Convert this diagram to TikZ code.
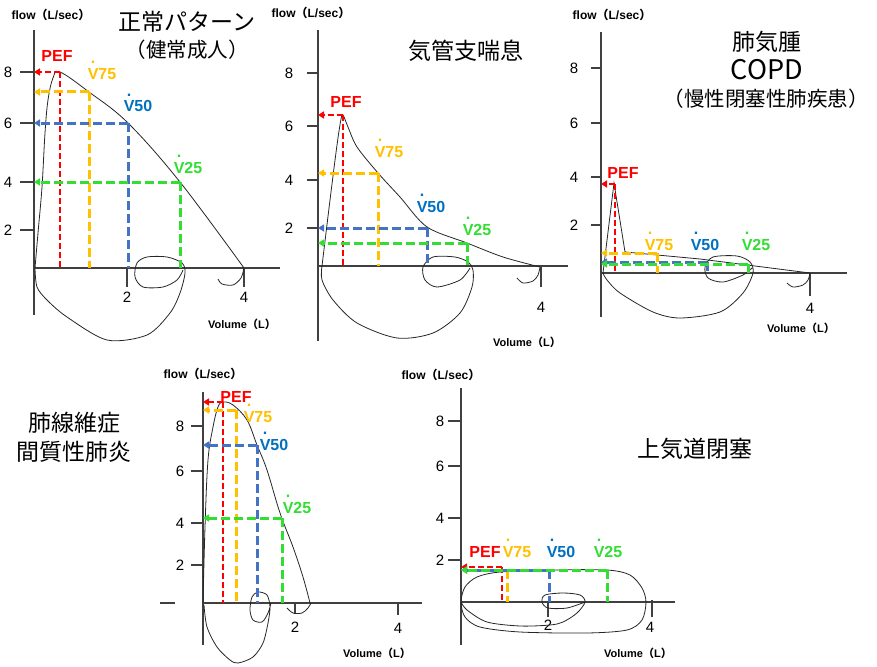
\documentclass[tikz,border=0pt]{standalone}
\usepackage{fontspec}
\setmainfont{Liberation Sans}
\newfontfamily\jp{Noto Sans CJK JP}
\usetikzlibrary{arrows.meta}

\definecolor{pefred}{RGB}{255,0,0}
\definecolor{vorange}{RGB}{255,192,0}
\definecolor{vblue}{RGB}{68,114,196}
\definecolor{vbluetext}{RGB}{0,112,192}
\definecolor{vgreen}{RGB}{51,221,51}

\newcommand{\Vdot}{\ooalign{V\cr\hidewidth\raisebox{1em}{.}\hidewidth\cr}}
\newcommand{\jpl}{{\jp （}}
\newcommand{\jpr}{{\jp ）}}

\begin{document}
\begin{tikzpicture}
      [x=1pt,y=-1pt,>={Triangle[length=6pt,width=7pt]}]

      \tikzstyle{axisline} = [line width=1.1pt,black!75]
      \tikzstyle{fv} = [line width=0.8pt,black!85]
      \tikzstyle{dashpef} = [pefred,line width=2pt,dash pattern=on 6pt off 3pt]
      \tikzstyle{dashv75} = [vorange,line width=3pt,dash pattern=on 9pt off 4pt]
      \tikzstyle{dashv50} = [vblue,line width=3pt,dash pattern=on 9pt off 4pt]
      \tikzstyle{dashv25} = [vgreen,line width=3pt,dash pattern=on 9pt off 4pt]
      \tikzstyle{ticklbl} = [inner sep=0pt,font=\fontsize{15}{15}\selectfont]
      \tikzstyle{ptlbl} = [inner sep=0pt,anchor=base,font=\bfseries\fontsize{16}{16}\selectfont]
      \tikzstyle{flowlbl} = [inner sep=0pt,font=\bfseries\fontsize{12}{12}\selectfont]
      \tikzstyle{vollbl} = [inner sep=0pt,font=\bfseries\fontsize{11}{11}\selectfont]
      \tikzstyle{titletxt} = [inner sep=0pt,font=\jp\fontsize{23}{23}\selectfont]
      \tikzstyle{subtxt} = [inner sep=0pt,font=\jp\fontsize{20.5}{20.5}\selectfont]

      \useasboundingbox (0,0) rectangle (877,666);

      % normal
      \coordinate (o1) at (34,268);
      \draw[axisline] (34,30) -- (34,315);
      \draw[axisline] (o1) -- (280,268);
      \foreach \v/\y in {8/72,6/123,4/182,2/230}
        {\draw[axisline] (20,\y) -- (34,\y);
         \node[ticklbl] (n1\v) at (8,\y) {\v};}
      \draw[axisline] (127,268) -- (127,287);
      \draw[axisline] (244,268) -- (244,287);
      \node[ticklbl] (x1a) at (127,297) {2};
      \node[ticklbl] (x1b) at (244,297) {4};
      \node[flowlbl] (f1) at (51,15) {flow\jpl L/sec\jpr};
      \node[vollbl] (u1) at (242,324) {Volume\jpl L\jpr};
      \node[titletxt] (t1a) at (187,22) {正常パターン};
      \node[subtxt] (t1b) at (187,50) {（健常成人）};

      \coordinate (p1pef) at (60,72);
      \coordinate (p1v75) at (89,92);
      \coordinate (p1v50) at (128,123);
      \coordinate (p1v25) at (180,182);

      \draw[fv] plot[smooth,tension=0.6] coordinates {(35,268) (38,233) (42,187) (45,133) (48,100) (53,78) (60,72)
        (89,92) (128,123) (180,182) (244,268)};
      \draw[fv] plot[smooth] coordinates {(35,268) (37,287) (47,300) (67,317) (107,340) (147,335) (170,313)
        (180,293) (185,273) (182,263) (167,257) (147,257) (137,263) (135,277) (143,287) (163,287) (177,280) (183,270)};
      \draw[fv] plot[smooth] coordinates {(218,279) (222,284) (233,285) (241,278) (244,268)};

      \foreach \n in {pef,v75,v50,v25}
        {\draw[dash\n,->] (p1\n) -- (p1\n -| o1);
         \draw[dash\n] (p1\n) -- (p1\n |- o1);}
      \node[ptlbl,pefred] (l1pef) at (57,62) {PEF};
      \node[ptlbl,vorange] (l1v75) at (102,80) {\Vdot75};
      \node[ptlbl,vbluetext] (l1v50) at (138,112) {\Vdot50};
      \node[ptlbl,vgreen] (l1v25) at (188,173) {\Vdot25};

      % asthma
      \coordinate (o2) at (318,266);
      \draw[axisline] (318,30) -- (318,341);
      \draw[axisline] (o2) -- (568,266);
      \foreach \v/\y in {8/73,6/126,4/180,2/228}
        {\draw[axisline] (307,\y) -- (318,\y);
         \node[ticklbl] (n2\v) at (289,\y) {\v};}
      \draw[axisline] (541,266) -- (541,287);
      \node[ticklbl] (x2b) at (541,307) {4};
      \node[flowlbl] (f2) at (311,13) {flow\jpl L/sec\jpr};
      \node[vollbl] (u2) at (527,342) {Volume\jpl L\jpr};
      \node[titletxt] (t2a) at (466,51) {気管支喘息};

      \coordinate (p2pef) at (343,115);
      \coordinate (p2v75) at (378,173);
      \coordinate (p2v50) at (427,228);
      \coordinate (p2v25) at (467,243);

      \draw[fv] plot[smooth,tension=0.5] coordinates {(322,266) (330,200) (337,145) (341,119) (343,115) (348,127)
        (357,147) (378,173) (400,197) (427,227) (467,243) (503,257) (540,267)};
      \draw[fv] plot[smooth] coordinates {(322,266) (322,280) (333,300) (357,323) (397,338) (433,333) (460,313)
        (472,287) (473,270) (468,262) (455,257) (433,257) (423,267) (425,280) (437,287) (460,280) (470,268)};
      \draw[fv] plot[smooth] coordinates {(517,278) (523,283) (533,281) (538,275) (540,267)};

      \foreach \n in {pef,v75,v50,v25}
        {\draw[dash\n,->] (p2\n) -- (p2\n -| o2);
         \draw[dash\n] (p2\n) -- (p2\n |- o2);}
      \node[ptlbl,pefred] (l2pef) at (346,107) {PEF};
      \node[ptlbl,vorange] (l2v75) at (389,157) {\Vdot75};
      \node[ptlbl,vbluetext] (l2v50) at (431,212) {\Vdot50};
      \node[ptlbl,vgreen] (l2v25) at (477,235) {\Vdot25};

      % emphysema / COPD
      \coordinate (o3) at (601,273);
      \draw[axisline] (601,32) -- (601,317);
      \draw[axisline] (o3) -- (847,273);
      \foreach \v/\y in {8/68,6/123,4/177,2/225}
        {\draw[axisline] (591,\y) -- (601,\y);
         \node[ticklbl] (n3\v) at (574,\y) {\v};}
      \draw[axisline] (810,273) -- (810,296);
      \node[ticklbl] (x3b) at (810,308) {4};
      \node[flowlbl] (f3) at (612,15) {flow\jpl L/sec\jpr};
      \node[vollbl] (u3) at (801,328) {Volume\jpl L\jpr};
      \node[titletxt] (t3a) at (767,42) {肺気腫};
      \node[titletxt,font=\jp\fontsize{27}{27}\selectfont] (t3b) at (767,70) {COPD};
      \node[subtxt] (t3c) at (766,99) {（慢性閉塞性肺疾患）};

      \coordinate (p3pef) at (615,184);
      \coordinate (p3v75) at (657,253);
      \coordinate (p3v50) at (707,262);
      \coordinate (p3v25) at (748,264);

      \draw[fv] (603,273) -- (614,183) -- (625,252) -- (700,259) -- (810,273);
      \draw[fv] plot[smooth] coordinates {(603,273) (607,280) (620,293) (653,312) (680,318) (720,312) (743,293)
        (753,273) (750,262) (737,256) (713,257) (705,267) (708,278) (723,282) (743,275) (752,268)};
      \draw[fv] plot[smooth] coordinates {(787,283) (793,287) (803,285) (808,280) (810,273)};

      \foreach \n in {pef,v75,v50,v25}
        {\draw[dash\n,->] (p3\n) -- (p3\n -| o3);
         \draw[dash\n] (p3\n) -- (p3\n |- o3);}
      \node[ptlbl,pefred] (l3pef) at (623,178) {PEF};
      \node[ptlbl,vorange] (l3v75) at (659,250) {\Vdot75};
      \node[ptlbl,vbluetext] (l3v50) at (705,250) {\Vdot50};
      \node[ptlbl,vgreen] (l3v25) at (756,250) {\Vdot25};

      % pulmonary fibrosis
      \coordinate (o4) at (203,603);
      \draw[axisline] (203,392) -- (203,645);
      \draw[axisline] (o4) -- (422,603);
      \draw[axisline] (160,603) -- (175,603);
      \foreach \v/\y in {8/426,6/471,4/523,2/565}
        {\draw[axisline] (191,\y) -- (203,\y);
         \node[ticklbl] (n4\v) at (180,\y) {\v};}
      \draw[axisline] (295,603) -- (295,614);
      \draw[axisline] (398,603) -- (398,615);
      \node[ticklbl] (x4a) at (295,627) {2};
      \node[ticklbl] (x4b) at (398,628) {4};
      \node[flowlbl] (f4) at (203,374) {flow\jpl L/sec\jpr};
      \node[vollbl] (u4) at (377,653) {Volume\jpl L\jpr};
      \node[titletxt] (t4a) at (74,423) {肺線維症};
      \node[titletxt] (t4b) at (74,452) {間質性肺炎};

      \coordinate (p4pef) at (223,402);
      \coordinate (p4v75) at (236,410);
      \coordinate (p4v50) at (257,445);
      \coordinate (p4v25) at (282,518);

      \draw[fv] plot[smooth,tension=0.6] coordinates {(203,603) (205,527) (208,460) (213,427) (218,407) (223,402)
        (233,405) (247,420) (257,445) (267,470) (280,513) (293,547) (303,577) (310,603)};
      \draw[fv] plot[smooth] coordinates {(204,605) (207,627) (217,647) (230,660) (238,663) (253,657) (263,643)
        (268,623) (270,607) (267,595) (258,592) (252,597) (250,610) (253,620) (262,622) (268,613) (271,603)};
      \draw[fv] plot[smooth] coordinates {(287,608) (293,613) (302,613) (308,608) (311,603)};

      \foreach \n in {pef,v75,v50,v25}
        {\draw[dash\n,->] (p4\n) -- (p4\n -| o4);
         \draw[dash\n] (p4\n) -- (p4\n |- o4);}
      \node[ptlbl,pefred] (l4pef) at (236,402) {PEF};
      \node[ptlbl,vorange] (l4v75) at (258,422) {\Vdot75};
      \node[ptlbl,vbluetext] (l4v50) at (274,450) {\Vdot50};
      \node[ptlbl,vgreen] (l4v25) at (297,513) {\Vdot25};

      % upper airway obstruction
      \coordinate (o5) at (461,602);
      \draw[axisline] (461,388) -- (461,645);
      \draw[axisline] (o5) -- (675,602);
      \foreach \v/\y in {8/421,6/466,4/518,2/560}
        {\draw[axisline] (448,\y) -- (461,\y);
         \node[ticklbl] (n5\v) at (440,\y) {\v};}
      \draw[axisline] (548,602) -- (548,617);
      \draw[axisline] (652,600) -- (652,617);
      \node[ticklbl] (x5a) at (548,625) {2};
      \node[ticklbl] (x5b) at (650,627) {4};
      \node[flowlbl] (f5) at (441,375) {flow\jpl L/sec\jpr};
      \node[vollbl] (u5) at (638,653) {Volume\jpl L\jpr};
      \node[titletxt] (t5a) at (695,449) {上気道閉塞};

      \coordinate (p5pef) at (502,567);
      \coordinate (p5v75) at (507,570);
      \coordinate (p5v50) at (549,570);
      \coordinate (p5v25) at (607,570);

      \draw[fv] plot[smooth cycle] coordinates {(461,602) (465,587) (477,577) (500,572) (553,570) (607,570)
        (630,575) (642,588) (646,602) (642,620) (627,630) (587,633) (520,632) (480,627) (465,617)};
      \draw[fv] plot[smooth] coordinates {(461,602) (467,610) (487,622) (520,626) (550,625) (563,622) (577,613)
        (585,602) (580,595) (563,593) (545,595) (542,602) (548,608) (567,608) (585,602)};

      \foreach \n in {pef,v75,v50,v25}
        {\draw[dash\n,->] (p5\n) -- (p5\n -| o5);
         \draw[dash\n] (p5\n) -- (p5\n |- o5);}
      \node[ptlbl,pefred] (l5pef) at (485,557) {PEF};
      \node[ptlbl,vorange] (l5v75) at (517,557) {\Vdot75};
      \node[ptlbl,vbluetext] (l5v50) at (561,557) {\Vdot50};
      \node[ptlbl,vgreen] (l5v25) at (608,557) {\Vdot25};
    \end{tikzpicture}
\end{document}
